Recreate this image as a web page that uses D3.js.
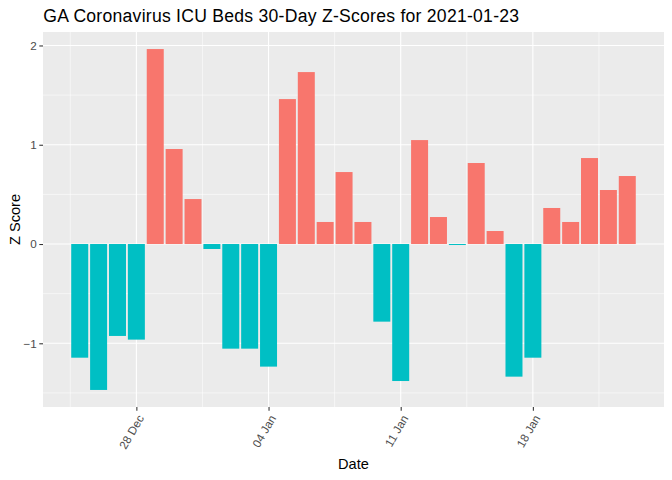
<!DOCTYPE html>
<html>
<head>
<meta charset="utf-8">
<script src="https://cdn.jsdelivr.net/npm/d3@7"></script>
<style>
  html, body { margin: 0; padding: 0; background: #ffffff; }
  svg { display: block; font-family: "Liberation Sans", Arial, sans-serif; }
</style>
</head>
<body>
<svg id="chart" width="672" height="480"></svg>
<script>
// ---- data ----
const dates = [
  "2020-12-25","2020-12-26","2020-12-27","2020-12-28","2020-12-29","2020-12-30","2020-12-31",
  "2021-01-01","2021-01-02","2021-01-03","2021-01-04","2021-01-05","2021-01-06","2021-01-07",
  "2021-01-08","2021-01-09","2021-01-10","2021-01-11","2021-01-12","2021-01-13","2021-01-14",
  "2021-01-15","2021-01-16","2021-01-17","2021-01-18","2021-01-19","2021-01-20","2021-01-21",
  "2021-01-22","2021-01-23"
];
const zScores = [
  -1.145, -1.47, -0.926, -0.963, 1.964, 0.957, 0.453,
  -0.05, -1.054, -1.054, -1.235, 1.46, 1.732, 0.222,
  0.725, 0.222, -0.782, -1.38, 1.047, 0.272, -0.01,
  0.816, 0.131, -1.336, -1.145, 0.363, 0.222, 0.866,
  0.544, 0.685
];
const xTickDates = ["2020-12-28","2021-01-04","2021-01-11","2021-01-18"];
const xTickLabels = ["28 Dec","04 Jan","11 Jan","18 Jan"];
const yTicks = [-1, 0, 1, 2];
const yMinor = [-1.5, -0.5, 0.5, 1.5];
const titleText = "GA Coronavirus ICU Beds 30-Day Z-Scores for 2021-01-23";

// ---- layout ----
const W = 672, H = 480;
const P = { left: 43, right: 664, top: 32, bottom: 407 };
const DAY = 86400000;
const parse = d3.utcParse("%Y-%m-%d");
const data = dates.map((d, i) => ({ date: parse(d), z: zScores[i] }));

const svg = d3.select("#chart");

// x scale: continuous dates with ggplot-like 5% expansion
const t0 = +data[0].date - 0.45 * DAY, t1 = +data[data.length - 1].date + 0.45 * DAY;
const xpad = (t1 - t0) * 0.05;
const x = d3.scaleUtc().domain([new Date(t0 - xpad), new Date(t1 + xpad)]).range([P.left, P.right]);

const zmin = Math.min(0, d3.min(zScores)), zmax = Math.max(0, d3.max(zScores));
const ypad = (zmax - zmin) * 0.05;
const y = d3.scaleLinear().domain([zmin - ypad, zmax + ypad]).range([P.bottom, P.top]);

// panel background
svg.append("rect").attr("x", P.left).attr("y", P.top)
  .attr("width", P.right - P.left).attr("height", P.bottom - P.top).attr("fill", "#EBEBEB");

// minor x grid (midpoints between major ticks)
const majorT = xTickDates.map(parse);
const minorT = [];
minorT.push(new Date(+majorT[0] - 3.5 * DAY));
for (let i = 0; i < majorT.length; i++) minorT.push(new Date(+majorT[i] + 3.5 * DAY));

const grid = svg.append("g");
grid.selectAll(".ymin").data(yMinor).join("line")
  .attr("x1", P.left).attr("x2", P.right)
  .attr("y1", d => y(d)).attr("y2", d => y(d))
  .attr("stroke", "#fff").attr("stroke-width", 0.55);
grid.selectAll(".xmin").data(minorT).join("line")
  .attr("x1", d => x(d)).attr("x2", d => x(d))
  .attr("y1", P.top).attr("y2", P.bottom)
  .attr("stroke", "#fff").attr("stroke-width", 0.55);
grid.selectAll(".ymaj").data(yTicks).join("line")
  .attr("x1", P.left).attr("x2", P.right)
  .attr("y1", d => y(d)).attr("y2", d => y(d))
  .attr("stroke", "#fff").attr("stroke-width", 1.1);
grid.selectAll(".xmaj").data(majorT).join("line")
  .attr("x1", d => x(d)).attr("x2", d => x(d))
  .attr("y1", P.top).attr("y2", P.bottom)
  .attr("stroke", "#fff").attr("stroke-width", 1.1);

// bars
const bw = x(new Date(0.9 * DAY)) - x(new Date(0));
svg.append("g").selectAll("rect").data(data).join("rect")
  .attr("x", d => x(d.date) - bw / 2)
  .attr("width", bw)
  .attr("y", d => y(Math.max(0, d.z)))
  .attr("height", d => Math.abs(y(d.z) - y(0)))
  .attr("fill", d => d.z > 0 ? "#F8766D" : "#00BFC4");

// y axis
const yAxis = d3.axisLeft(y).tickValues(yTicks).tickSize(3.7).tickPadding(2.5).tickFormat(d3.format("d"));
const gy = svg.append("g").attr("transform", `translate(${P.left},0)`).call(yAxis);
gy.select(".domain").remove();
gy.selectAll(".tick line").attr("stroke", "#333333").attr("stroke-width", 1.07);
gy.selectAll(".tick text").attr("fill", "#4D4D4D").style("font-size", "11.7px")
  .style("font-family", "'Liberation Sans', Arial, sans-serif");

// x axis
const xAxis = d3.axisBottom(x).tickValues(majorT).tickSize(3.7).tickFormat((d, i) => xTickLabels[i]);
const gx = svg.append("g").attr("transform", `translate(0,${P.bottom})`).call(xAxis);
gx.select(".domain").remove();
gx.selectAll(".tick line").attr("stroke", "#333333").attr("stroke-width", 1.07);
gx.selectAll(".tick text")
  .attr("fill", "#4D4D4D").style("font-size", "11.7px")
  .style("font-family", "'Liberation Sans', Arial, sans-serif")
  .attr("text-anchor", "end").attr("dy", null).attr("y", null)
  .attr("transform", "translate(7.5,11) rotate(-60)");

// titles
svg.append("text").attr("x", 43.3).attr("y", 22.3)
  .attr("fill", "#000").style("font-size", "17.6px").style("letter-spacing", "0.25px").text(titleText);
svg.append("text").attr("x", (P.left + P.right) / 2).attr("y", 469.3)
  .attr("text-anchor", "middle").attr("fill", "#000").style("font-size", "14.6px").text("Date");
svg.append("text").attr("transform", `translate(19.5,${(P.top + P.bottom) / 2}) rotate(-90)`)
  .attr("text-anchor", "middle").attr("fill", "#000").style("font-size", "14.6px").text("Z Score");
</script>
</body>
</html>
